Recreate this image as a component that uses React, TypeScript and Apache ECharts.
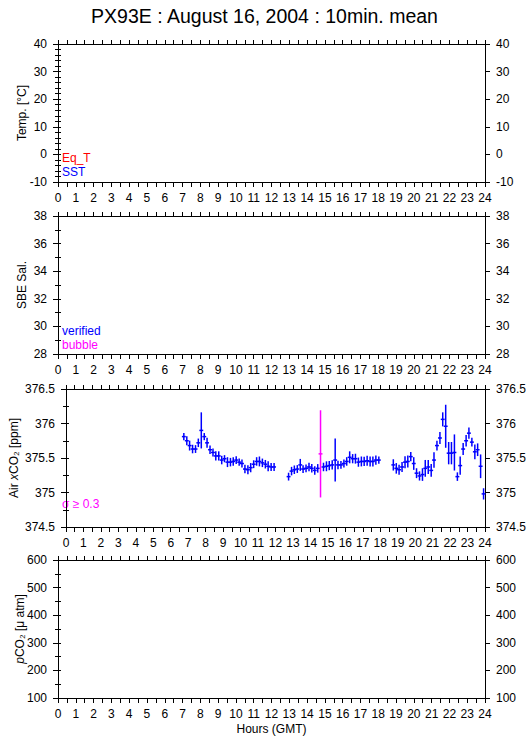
import React, { useEffect, useRef } from "react";
import * as echarts from "echarts";

const TITLE = "PX93E : August 16, 2004 : 10min. mean";
const HOUR_TICKS = [0, 24];

// Air xCO2 10-min means (hours GMT), values (ppm), standard deviation (ppm)
const airHours = [
  6.75, 6.92, 7.08, 7.25, 7.42, 7.58, 7.75, 7.92, 8.08, 8.25, 8.42, 8.58, 8.75, 8.92, 9.08, 9.25,
  9.42, 9.58, 9.75, 9.92, 10.08, 10.25, 10.42, 10.58, 10.75, 10.92, 11.08, 11.25, 11.42, 11.58, 11.75, 11.92,
  12.75, 12.92, 13.08, 13.25, 13.42, 13.58, 13.75, 13.92, 14.08, 14.25, 14.42, 14.58, 14.75, 14.92, 15.08, 15.25,
  15.42, 15.58, 15.75, 15.92, 16.08, 16.25, 16.42, 16.58, 16.75, 16.92, 17.08, 17.25, 17.42, 17.58, 17.75, 17.92,
  18.75, 18.92, 19.08, 19.25, 19.42, 19.58, 19.75, 19.92, 20.08, 20.25, 20.42, 20.58, 20.75, 20.92, 21.08, 21.25,
  21.42, 21.58, 21.75, 21.92, 22.08, 22.25, 22.42, 22.58, 22.75, 22.92, 23.08, 23.25, 23.42, 23.58, 23.75, 23.92,
];
const airValues = [
  375.81, 375.75, 375.68, 375.63, 375.63, 375.72, 375.9, 375.81, 375.72, 375.62, 375.58, 375.53, 375.53, 375.47, 375.49, 375.44,
  375.44, 375.45, 375.47, 375.44, 375.42, 375.34, 375.33, 375.36, 375.41, 375.45, 375.45, 375.43, 375.41, 375.38, 375.37, 375.37,
  375.23, 375.31, 375.33, 375.34, 375.4, 375.34, 375.35, 375.37, 375.35, 375.32, 375.35, 375.56, 375.37, 375.38, 375.39, 375.4,
  375.47, 375.4, 375.4, 375.42, 375.45, 375.51, 375.49, 375.49, 375.44, 375.45, 375.45, 375.46, 375.45, 375.45, 375.47, 375.47,
  375.4, 375.35, 375.33, 375.37, 375.44, 375.45, 375.52, 375.42, 375.28, 375.24, 375.26, 375.35, 375.37, 375.32, 375.47, 375.68,
  375.79, 376.06, 375.96, 375.57, 375.57, 375.58, 375.23, 375.39, 375.63, 375.75, 375.86, 375.73, 375.59, 375.62, 375.38, 374.98,
];
const airSigma = [
  0.03, 0.045, 0.05, 0.04, 0.035, 0.04, 0.24, 0.03, 0.05, 0.04, 0.035, 0.045, 0.045, 0.04, 0.03, 0.05,
  0.04, 0.04, 0.035, 0.03, 0.035, 0.04, 0.045, 0.045, 0.035, 0.04, 0.05, 0.04, 0.04, 0.05, 0.035, 0.035,
  0.035, 0.04, 0.04, 0.035, 0.065, 0.035, 0.035, 0.04, 0.04, 0.04, 0.04, 0.61, 0.04, 0.05, 0.045, 0.045,
  0.29, 0.04, 0.035, 0.035, 0.04, 0.065, 0.045, 0.05, 0.045, 0.05, 0.045, 0.05, 0.05, 0.05, 0.045, 0.03,
  0.06, 0.055, 0.05, 0.05, 0.065, 0.065, 0.045, 0.07, 0.05, 0.045, 0.07, 0.1, 0.08, 0.07, 0.09, 0.05,
  0.065, 0.08, 0.29, 0.14, 0.14, 0.24, 0.04, 0.11, 0.065, 0.06, 0.06, 0.04, 0.085, 0.07, 0.15, 0.06,
];

const SIGMA_LIMIT = 0.3;

// Panel axis ranges: [min, max, major interval, minor interval]
const tempRange = [-10, 40, 10, 2];
const salRange = [28, 38, 2, 1];
const airRange = [374.5, 376.5, 0.5, 0.25];
const pco2Range = [100, 600, 100, 50];

const FONT = '"Liberation Sans", Arial, Helvetica, sans-serif';
const PANEL_TOPS = [44, 216, 389, 560];
const PANEL_H = 138;

export default function App() {
  const ref = useRef<HTMLDivElement>(null);
  useEffect(() => {
    if (!ref.current) return;
    const chart = echarts.init(ref.current, null, { renderer: "svg" });
    const ranges = [tempRange, salRange, airRange, pco2Range];
    const names = [
      "Temp. [°C]",
      "SBE Sal.",
      "Air {i|x}CO₂ [ppm]",
      "{i|p}CO₂ [μ atm]",
    ];
    const nameGaps = [30, 30, 46, 32];
    const grids: any[] = [];
    const xAxes: any[] = [];
    const yAxes: any[] = [];
    const lineStyle = { color: "#000", width: 1 };
    const labelStyle = { color: "#000", fontSize: 12, fontFamily: FONT };
    ranges.forEach((r, g) => {
      grids.push({ left: 58, right: 44, top: PANEL_TOPS[g], height: PANEL_H, containLabel: false });
      xAxes.push({
        type: "value",
        gridIndex: g,
        position: "bottom",
        min: HOUR_TICKS[0],
        max: HOUR_TICKS[1],
        interval: 0.5,
        axisLine: { show: true, lineStyle, onZero: false },
        axisTick: { show: true, length: 5, lineStyle },
        splitLine: { show: false },
        axisLabel: {
          ...labelStyle,
          margin: 10,
          formatter: (v: number) => (Number.isInteger(v) ? String(v) : ""),
        },
        ...(g === 3
          ? {
              name: "Hours (GMT)",
              nameLocation: "middle",
              nameGap: 25,
              nameTextStyle: { ...labelStyle },
            }
          : {}),
      });
      xAxes.push({
        type: "value",
        gridIndex: g,
        position: "top",
        min: HOUR_TICKS[0],
        max: HOUR_TICKS[1],
        interval: 0.5,
        axisLine: { show: true, lineStyle, onZero: false },
        axisTick: { show: true, length: 4, lineStyle },
        splitLine: { show: false },
        axisLabel: { show: false },
      });
      const [mn, mx, maj, mnr] = r;
      const base = {
        type: "value",
        gridIndex: g,
        min: mn,
        max: mx,
        splitLine: { show: false },
      };
      yAxes.push({
        ...base,
        position: "left",
        interval: maj,
        axisLine: { show: true, lineStyle, onZero: false },
        axisTick: { show: true, length: 5, lineStyle },
        axisLabel: { ...labelStyle, margin: 11 },
        name: names[g],
        nameLocation: "middle",
        nameGap: nameGaps[g],
        nameRotate: 90,
        nameMoveOverlap: false,
        nameTextStyle: {
          ...labelStyle,
          rich: { i: { fontStyle: "italic", fontSize: 12, fontFamily: FONT, color: "#000" } },
        },
      });
      yAxes.push({
        ...base,
        position: "left",
        interval: mnr,
        axisLine: { show: false },
        axisTick: { show: true, inside: true, length: 3, lineStyle },
        axisLabel: { show: false },
      });
      yAxes.push({
        ...base,
        position: "right",
        interval: maj,
        axisLine: { show: true, lineStyle, onZero: false },
        axisTick: { show: true, length: 5, lineStyle },
        axisLabel: { ...labelStyle, margin: 11 },
      });
      yAxes.push({
        ...base,
        position: "right",
        interval: mnr,
        axisLine: { show: false },
        axisTick: { show: true, inside: true, length: 3, lineStyle },
        axisLabel: { show: false },
      });
    });

    const airData = airHours.map((h, i) => [h, airValues[i], airSigma[i]]);
    const half = 5 / 60;

    const textEl = (text: string, y: number, fill: string) => ({
      type: "text",
      x: 62,
      y,
      style: { text, fill, fontSize: 12, fontFamily: FONT, verticalAlign: "middle", align: "left" },
    });

    chart.setOption({
      animation: false,
      backgroundColor: "#fff",
      title: {
        text: TITLE,
        left: "center",
        top: 1,
        textStyle: { fontSize: 19.5, fontWeight: "normal", color: "#000", fontFamily: FONT },
      },
      grid: grids,
      xAxis: xAxes,
      yAxis: yAxes,
      series: [
        {
          type: "custom",
          xAxisIndex: 4,
          yAxisIndex: 8,
          data: airData,
          encode: { x: 0, y: 1 },
          renderItem: (params: any, api: any) => {
            const h = api.value(0);
            const v = api.value(1);
            const s = api.value(2);
            const c = api.coord([h, v]);
            const t = api.coord([h, v + s]);
            const b = api.coord([h, v - s]);
            const l = api.coord([h - half, v]);
            const r = api.coord([h + half, v]);
            const color = s >= SIGMA_LIMIT ? "#ff00ff" : "#0000ff";
            return {
              type: "group",
              children: [
                { type: "line", shape: { x1: c[0], y1: t[1] - 1.5, x2: c[0], y2: b[1] + 1.5 }, style: { stroke: color, lineWidth: 1.5 } },
                { type: "line", shape: { x1: l[0] - 0.5, y1: c[1], x2: r[0] + 0.5, y2: c[1] }, style: { stroke: color, lineWidth: 1.5 } },
              ],
            };
          },
        },
      ],
      graphic: [
        textEl("Eq_T", 158, "#ff0000"),
        textEl("SST", 172, "#0000ff"),
        textEl("verified", 331, "#0000ff"),
        textEl("bubble", 345, "#ff00ff"),
        textEl("σ ≥ 0.3", 504, "#ff00ff"),
      ],
    });
    return () => chart.dispose();
  }, []);
  return (
    <div
      ref={ref}
      style={{ position: "absolute", left: 0, top: 0, width: 529, height: 739, background: "#fff" }}
    />
  );
}
